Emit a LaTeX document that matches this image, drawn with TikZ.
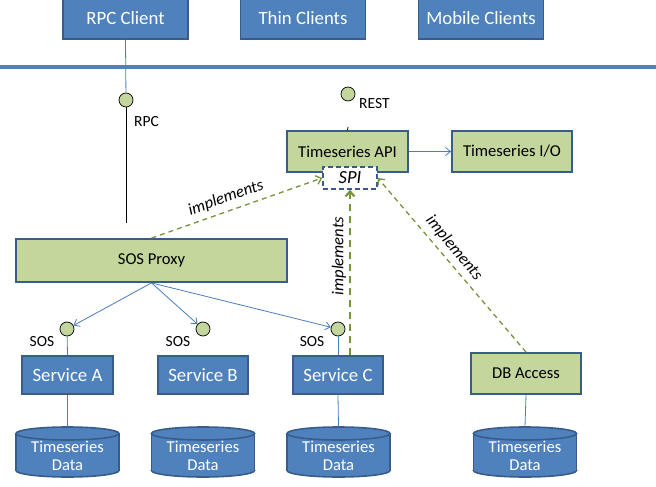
\documentclass[tikz,border=0pt]{standalone}
\usepackage{fontspec}
\setmainfont{Carlito}
\usetikzlibrary{arrows.meta}
\definecolor{boxblue}{HTML}{4F81BD}
\definecolor{edgeblue}{HTML}{385D8A}
\definecolor{boxgreen}{HTML}{C3D69B}
\definecolor{dashgreen}{HTML}{77933C}
\definecolor{linkblue}{HTML}{4A7EBB}
\newcommand\dbcyl[3]{%
  \fill[boxblue, draw=edgeblue, line width=1.6pt] (#2,{#3+18.5}) ellipse [x radius=51.5, y radius=6.5];
  \fill[boxblue] ({#2-51.5},{#3-18.5}) rectangle ({#2+51.5},{#3+18.5});
  \draw[edgeblue, line width=1.6pt] ({#2-51.5},{#3-18.5}) -- ({#2-51.5},{#3+18.5});
  \draw[edgeblue, line width=1.6pt] ({#2+51.5},{#3-18.5}) -- ({#2+51.5},{#3+18.5});
  \fill[boxblue, draw=edgeblue, line width=1.6pt] (#2,{#3-18.5}) ellipse [x radius=51.5, y radius=6.5];
  \node[cylshape] (#1) at (#2,#3) {};
  \node[cyltext] at (#2,{#3+4}) {Timeseries\\Data};
}
\begin{document}
\begin{tikzpicture}[x=1pt,y=-1pt,
  bluebox/.style={draw=edgeblue, line width=1.8pt, fill=boxblue, text=white, inner sep=0pt, font=\fontsize{18.8}{20}\selectfont},
  greenbox/.style={draw=edgeblue, line width=1.8pt, fill=boxgreen, text=black, inner sep=0pt, font=\fontsize{16.6}{18}\selectfont},
  spibox/.style={draw=edgeblue, line width=1.6pt, dash pattern=on 5pt off 3pt, fill=white, inner sep=0pt, minimum width=54pt, minimum height=22pt, font=\itshape\fontsize{18.5}{20}\selectfont},
  port/.style={circle, draw=black, line width=0.7pt, fill=boxgreen, minimum size=14pt, inner sep=0pt},
  lbl/.style={font=\fontsize{15.5}{17}\selectfont, inner sep=0pt},
  conn/.style={draw=linkblue, line width=0.8pt},
  connarrow/.style={conn, -{Straight Barb[length=5pt,width=8pt]}},
  impl/.style={draw=dashgreen, line width=1.3pt, dash pattern=on 5pt off 4pt, -{Straight Barb[length=5pt,width=9pt]}},
  implthick/.style={impl, line width=2.2pt, dash pattern=on 7pt off 5pt},
  impltext/.style={font=\itshape\fontsize{16.6}{18}\selectfont, inner sep=0pt},
  cylshape/.style={minimum width=103pt, minimum height=50pt, inner sep=0pt},
  cyltext/.style={text=white, align=center, font=\fontsize{16.6}{18.5}\selectfont, inner sep=0pt}
]
\useasboundingbox (0,0) rectangle (656,487);

% clients
\node[bluebox, minimum width=125pt, minimum height=41pt] (rpcc) at (125.5,18.5) {RPC Client};
\node[bluebox, minimum width=125pt, minimum height=41pt] (thin) at (303,18.5) {Thin Clients};
\node[bluebox, minimum width=125pt, minimum height=41pt] (mobile) at (481,18.5) {Mobile Clients};

% separator bar
\fill[boxblue] (0,65) rectangle (656,69);

% ports
\node[port] (prpc) at (126,100) {};
\node[lbl, anchor=west] at (134,122) {RPC};
\node[port] (prest) at (348,94) {};
\node[lbl, anchor=west] at (359,104) {REST};
\coordinate (rpcend) at (126,223);
\coordinate (resttick) at (348,127);

% API
\node[greenbox, minimum width=121pt, minimum height=41pt] (api) at (347.5,151.5) {Timeseries API};
\node[greenbox, minimum width=120pt, minimum height=41pt] (tio) at (512,151.5) {Timeseries I/O};
\node[spibox] (spi) at (350,178) {SPI};

% proxy
\node[greenbox, minimum width=271pt, minimum height=43pt] (proxy) at (151.5,260.5) {SOS Proxy};

% SOS ports
\node[port] (pA) at (67,329) {};
\node[port] (pB) at (203,329) {};
\node[port] (pC) at (338,329) {};
\node[lbl] at (42,342) {SOS};
\node[lbl] at (178,342) {SOS};
\node[lbl] at (312,342) {SOS};

% services
\node[bluebox, minimum width=91pt, minimum height=38pt] (svcA) at (67.5,375) {Service A};
\node[bluebox, minimum width=90pt, minimum height=38pt] (svcB) at (203,375) {Service B};
\node[bluebox, minimum width=90pt, minimum height=38pt] (svcC) at (338,375) {Service C};
\node[greenbox, minimum width=110pt, minimum height=41pt] (dba) at (526,373.5) {DB Access};

% databases
\dbcyl{dbA}{67.5}{452}
\dbcyl{dbB}{203}{452}
\dbcyl{dbC}{338.5}{452}
\dbcyl{dbD}{525}{452}

% connectors
\draw[conn] (rpcc.south) -- (prpc);
\draw[black, line width=0.8pt] (prpc) -- (rpcend);
\draw[black, line width=0.8pt] (resttick) -- (api.north);
\draw[connarrow] (api.east) -- (tio.west);
\draw[connarrow] (proxy.south) -- (pA);
\draw[connarrow] (proxy.south) -- (pB);
\draw[connarrow] (proxy.south) -- (pC);
\draw[conn] (pA) -- (svcA.north);
\draw[conn] (pC) -- (svcC.north);
\draw[conn] (svcA.south) -- (dbA.north);
\draw[conn] (svcC.south) -- (dbC.north);
\draw[conn] (dba.south) -- (dbD.north);

% implements
\draw[impl] (proxy.north) -- (spi.west);
\draw[implthick] (svcC.north -| spi.south) -- (spi.south);
\draw[impl] (dba.north) -- (spi.east);
\node[impltext, rotate=19.5] at (226,198) {implements};
\node[impltext, rotate=90] at (339,256) {implements};
\node[impltext, rotate=-50] at (454,248) {implements};
\end{tikzpicture}
\end{document}
